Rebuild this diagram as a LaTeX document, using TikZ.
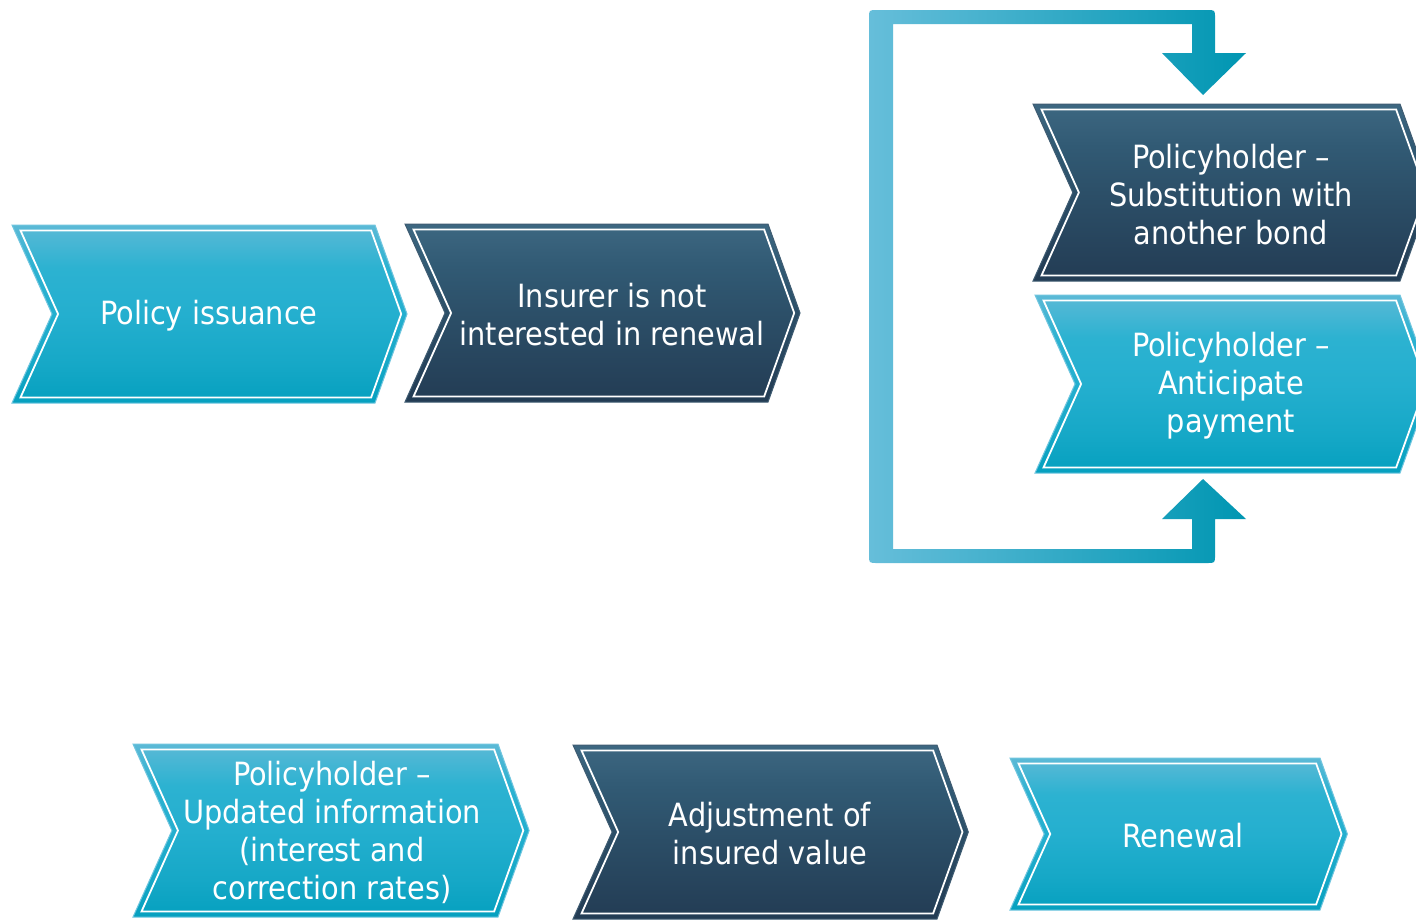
\documentclass[tikz,border=0pt]{standalone}
\usepackage{fontspec}
\newfontfamily\chevfont{DejaVu Sans Condensed}

\definecolor{cyTop}{HTML}{5BB9D6}
\definecolor{cyUp}{HTML}{2CB2D1}
\definecolor{cyMid}{HTML}{24AFCF}
\definecolor{cyLow}{HTML}{16A8C7}
\definecolor{cyBot}{HTML}{05A0BF}
\definecolor{cyEdge}{HTML}{70C6DF}
\definecolor{dkTop}{HTML}{3D6781}
\definecolor{dkUp}{HTML}{315A74}
\definecolor{dkMid}{HTML}{2C4F68}
\definecolor{dkBot}{HTML}{233C54}
\definecolor{dkEdge}{HTML}{3F5C72}
\definecolor{brLeft}{HTML}{66BEDA}
\definecolor{brMid}{HTML}{22B0CF}
\definecolor{brRight}{HTML}{0096B2}

% vertical fills: the path spans 25bp (bottom) to 75bp (top)
\pgfdeclareverticalshading{cyanshade}{100bp}{%
  color(0bp)=(cyBot); color(25bp)=(cyBot); color(36bp)=(cyLow);
  color(50bp)=(cyMid); color(63bp)=(cyUp); color(75bp)=(cyTop); color(100bp)=(cyTop)}
\pgfdeclareverticalshading{darkshade}{100bp}{%
  color(0bp)=(dkBot); color(25bp)=(dkBot); color(50bp)=(dkMid);
  color(63bp)=(dkUp); color(75bp)=(dkTop); color(100bp)=(dkTop)}

\tikzset{
  cyanchev/.style={shading=cyanshade, draw=cyEdge, line width=1pt},
  darkchev/.style={shading=darkshade, draw=dkEdge, line width=1pt},
  innerline/.style={draw=white, line width=1.8pt, line join=miter},
  chevtext/.style={text=white, font=\chevfont\fontsize{32}{38}\selectfont, align=center, inner sep=0pt},
  bracketarrow/.style={left color=brLeft, middle color=brMid, right color=brRight}
}

% \chevron{name}{left x}{top y}{right corner x}{bottom y}{style}{text}{text x}
\newcommand{\chevron}[8]{%
  \pgfmathsetmacro{\cvH}{(#5-#3)/2}%
  \pgfmathsetmacro{\cvM}{(#5+#3)/2}%
  \pgfmathsetmacro{\cvN}{0.45*\cvH}%
  \pgfmathsetmacro{\cvT}{0.36*\cvH}%
  \path[#6] (#2,#3) -- (#4,#3) -- ({#4+\cvT},\cvM) -- (#4,#5) -- (#2,#5) -- ({#2+\cvN},\cvM) -- cycle;
  \pgfmathsetmacro{\cvd}{5.5}%
  \pgfmathsetmacro{\cvsl}{\cvN/\cvH}%
  \pgfmathsetmacro{\cvsr}{\cvT/\cvH}%
  \pgfmathsetmacro{\cvhl}{\cvd*sqrt(1+\cvsl*\cvsl)}%
  \pgfmathsetmacro{\cvhr}{\cvd*sqrt(1+\cvsr*\cvsr)}%
  \pgfmathsetmacro{\cvTop}{#3+\cvd}%
  \pgfmathsetmacro{\cvBot}{#5-\cvd}%
  \pgfmathsetmacro{\cvXl}{#2+\cvhl+\cvsl*\cvd}%
  \pgfmathsetmacro{\cvXn}{#2+\cvN+\cvhl}%
  \pgfmathsetmacro{\cvXr}{#4-\cvhr+\cvsr*\cvd}%
  \pgfmathsetmacro{\cvXt}{#4+\cvT-\cvhr}%
  \pgfmathsetmacro{\cvTy}{\cvM+2}%
  \draw[innerline] (\cvXl,\cvTop) -- (\cvXr,\cvTop) -- (\cvXt,\cvM) -- (\cvXr,\cvBot) -- (\cvXl,\cvBot) -- (\cvXn,\cvM) -- cycle;
  \node[chevtext] (#1) at (#8,\cvTy) {#7};
}

\begin{document}
\begin{tikzpicture}[x=1pt, y=-1pt]
  \useasboundingbox (0,0) rectangle (1416,919);
  \fill[white] (0,0) rectangle (1416,919);

  % loop bracket with the two inward arrow heads
  \path[bracketarrow]
    (869,300) -- (869,18) .. controls (869,10) .. (877,10) -- (1207,10)
    .. controls (1215,10) .. (1215,18) -- (1215,53) -- (1246,53) -- (1203,95)
    -- (1162,53) -- (1192,53) -- (1192,24) -- (893,24) -- (893,549)
    -- (1192,549) -- (1192,519) -- (1162,519) -- (1203,479) -- (1246,519)
    -- (1215,519) -- (1215,555) .. controls (1215,563) .. (1207,563)
    -- (877,563) .. controls (869,563) .. (869,555) -- cycle;

  % upper row
  \chevron{issue}{12}{225}{375}{403}{cyanchev}{Policy issuance}{209}
  \chevron{insurer}{405}{224}{768}{402}{darkchev}{Insurer is not\\interested in renewal}{612}
  \chevron{subst}{1033}{104}{1400}{281}{darkchev}{Policyholder –\\Substitution with\\another bond}{1231}
  \chevron{antic}{1035}{295}{1400}{473}{cyanchev}{Policyholder –\\Anticipate\\payment}{1231}

  % lower row
  \chevron{update}{133}{744}{498}{917}{cyanchev}{Policyholder –\\Updated information\\(interest and\\correction rates)}{332}
  \chevron{adjust}{573}{745}{937}{919}{darkchev}{Adjustment of\\insured value}{770}
  \chevron{renew}{1010}{758}{1320}{910}{cyanchev}{Renewal}{1183}
\end{tikzpicture}
\end{document}
